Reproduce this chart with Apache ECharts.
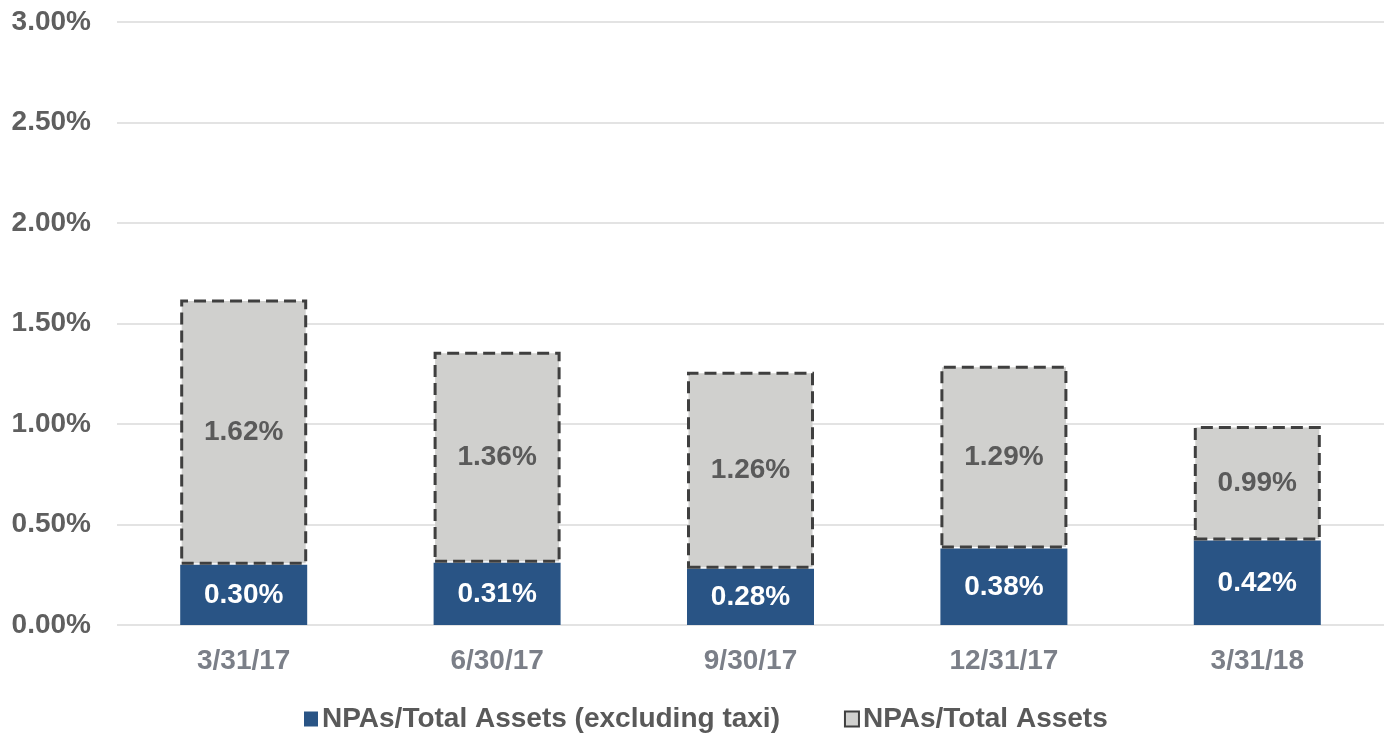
<!DOCTYPE html>
<html>
<head>
<meta charset="utf-8">
<script src="https://cdn.jsdelivr.net/npm/echarts@6/dist/echarts.min.js"></script>
<style>
html,body{margin:0;padding:0;background:#fff;}
#c{width:1390px;height:738px;}
</style>
</head>
<body>
<div id="c"></div>
<script>
const categories = ['3/31/17', '6/30/17', '9/30/17', '12/31/17', '3/31/18'];
const npaExclTaxi = [0.30, 0.31, 0.28, 0.38, 0.42];
const npaTotal = [1.62, 1.36, 1.26, 1.29, 0.99];
const seriesNames = ['NPAs/Total Assets (excluding taxi)', 'NPAs/Total Assets'];

const upper = npaTotal.map((t, i) => Math.round((t - npaExclTaxi[i]) * 100) / 100);
const font = '"Liberation Sans", Arial, sans-serif';

const chart = echarts.init(document.getElementById('c'));
chart.setOption({
  animation: false,
  backgroundColor: '#fff',
  grid: { left: 117, right: 6, top: 22, bottom: 113 },
  legend: {
    left: 299, top: 700,
    icon: 'rect',
    itemWidth: 14, itemHeight: 15, itemGap: 64,
    textStyle: { fontFamily: font, fontSize: 28, fontWeight: 'bold', color: '#595959', padding: [0, 0, 0, -1] },
    data: seriesNames
  },
  xAxis: {
    type: 'category',
    data: categories,
    axisLine: { show: false },
    axisTick: { show: false },
    axisLabel: { margin: 22, fontFamily: font, fontSize: 28, fontWeight: 'bold', color: '#7b7f88' }
  },
  yAxis: {
    type: 'value',
    min: 0, max: 3, interval: 0.5,
    axisLine: { show: false },
    axisTick: { show: false },
    splitLine: { lineStyle: { color: '#e3e3e3', width: 2 } },
    axisLabel: { margin: 26, fontFamily: font, fontSize: 28, fontWeight: 'bold', color: '#5f5f5f',
      formatter: v => v.toFixed(2) + '%' }
  },
  series: [
    {
      name: seriesNames[0],
      type: 'bar',
      stack: 'npa',
      barWidth: 127,
      data: npaExclTaxi,
      itemStyle: { color: '#295485' },
      label: { show: true, position: 'inside', fontFamily: font, fontSize: 28, fontWeight: 'bold', color: '#fff',
        formatter: p => npaExclTaxi[p.dataIndex].toFixed(2) + '%' }
    },
    {
      name: seriesNames[1],
      type: 'bar',
      stack: 'npa',
      barWidth: 127,
      data: upper,
      itemStyle: { color: '#d0d0ce', borderColor: '#3f3f3f', borderWidth: 3, borderType: [12, 6] },
      label: { show: true, position: 'inside', fontFamily: font, fontSize: 28, fontWeight: 'bold', color: '#5a5a5a',
        formatter: p => npaTotal[p.dataIndex].toFixed(2) + '%' }
    }
  ]
});
</script>
</body>
</html>
